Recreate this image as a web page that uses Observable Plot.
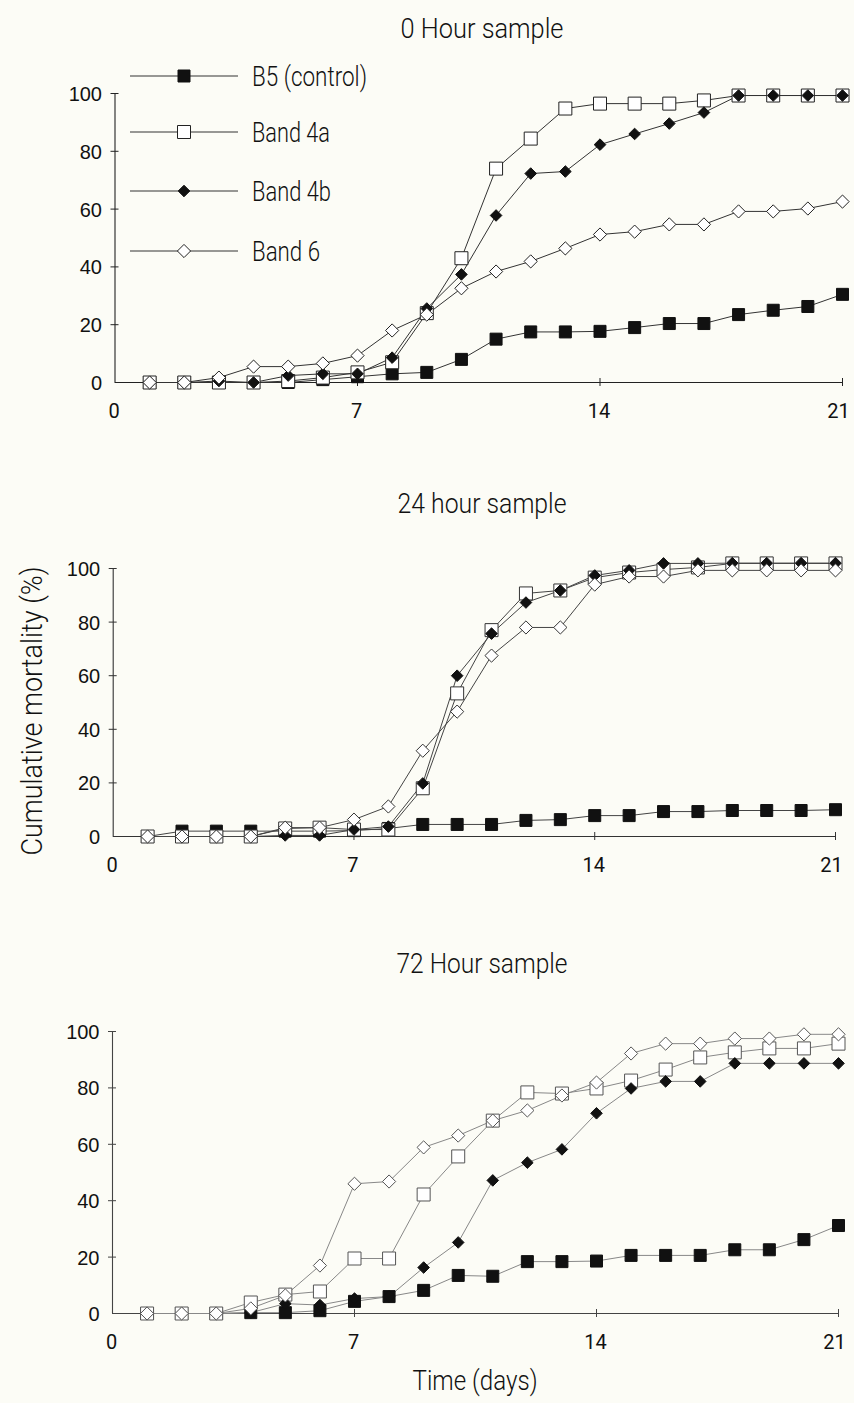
<!DOCTYPE html>
<html><head><meta charset="utf-8">
<script src="https://cdn.jsdelivr.net/npm/d3@7"></script>
<script src="https://cdn.jsdelivr.net/npm/@observablehq/plot@0.6"></script>
<style>
body{margin:0;background:#fcfcf6;}
#page{position:relative;width:854px;height:1403px;overflow:hidden;color:#111;}
.panel{position:absolute;left:0;}
.panel svg{overflow:visible;}
#overlay{position:absolute;left:0;top:0;}
</style></head>
<body><div id="page"></div>
<script>
// ---- data ----
const days = [1,2,3,4,5,6,7,8,9,10,11,12,13,14,15,16,17,18,19,20,21];
const seriesNames = ["B5 (control)","Band 4a","Band 4b","Band 6"];
const panelTitles = ["0 Hour sample","24 hour sample","72 Hour sample"];
const xTitle = "Time (days)";
const yTitle = "Cumulative mortality (%)";
const xTicks = [0,7,14,21];
const yTicks = [0,20,40,60,80,100];

const b5_0h   = [0,0,0,0,0,1,2,3,3.5,8,15,17.5,17.5,17.7,19,20.4,20.4,23.5,25,26.3,30.5];
const b4a_0h  = [0,0,0,0,0.5,1.7,3.5,7,24,43,74,84.4,94.8,96.5,96.5,96.5,97.6,99.3,99.3,99.3,99.3];
const b4b_0h  = [0,0,0.5,0,2.4,3,3,8.6,25.6,37.4,57.8,72.3,73,82.3,86,89.6,93.4,99.3,99.3,99.3,99.3];
const b6_0h   = [0,0,1.7,5.5,5.5,6.6,9.3,18,23.5,32.6,38.4,41.9,46.4,51.2,52.2,54.7,54.7,59.2,59.2,60.2,62.6];

const b5_24h  = [0,2,2,2,2,2,2.2,3,4.5,4.5,4.5,6,6.3,7.8,7.8,9.3,9.3,9.7,9.7,9.7,10];
const b4a_24h = [0,0,0,0,3,3.3,2.6,2.6,18,53.4,77,90.7,91.8,96.6,98.5,99.6,100.4,101.9,101.9,101.9,101.9];
const b4b_24h = [0,0,0,0,0.4,0.4,2.6,3.7,19.8,60,75.7,87.3,91.8,97.4,99.3,101.9,101.9,102,102,102,102];
const b6_24h  = [0,0,0,0,3.3,3.3,6.3,11.2,32,46.6,67.5,78,78,94,97,97,99.3,99.3,99.3,99.3,99.3];

const b5_72h  = [0,0,0,0.3,0.3,1,4.3,6,8.2,13.5,13.2,18.4,18.4,18.6,20.6,20.6,20.6,22.6,22.6,26.2,31.2];
const b4a_72h = [0,0,0,3.9,6.7,7.8,19.5,19.5,42.2,55.7,68.4,78.4,78,79.8,82.6,86.5,90.8,92.6,94,94,95.7];
const b4b_72h = [0,0,0,0.3,3.5,3,5.3,6,16.3,25.2,47.2,53.5,58.2,71,79.8,82.3,82.3,88.7,88.7,88.7,88.7];
const b6_72h  = [0,0,0,1.8,6.4,17,46,46.8,58.9,63.1,68.4,72,77.3,81.9,92.2,95.7,95.7,97.5,97.5,99,99];

// ---- symbols ----
const sq = {draw(ctx, size){const r=Math.sqrt(size/Math.PI);ctx.moveTo(-r,-r);ctx.lineTo(r,-r);ctx.lineTo(r,r);ctx.lineTo(-r,r);ctx.closePath();}};
const dm = {draw(ctx, size){const r=Math.sqrt(size/Math.PI);ctx.moveTo(0,-r);ctx.lineTo(r,0);ctx.lineTo(0,r);ctx.lineTo(-r,0);ctx.closePath();}};
const styles = [
  {symbol: sq, fill:"#111", r:6},
  {symbol: sq, fill:"#fff", r:6.5},
  {symbol: dm, fill:"#111", r:5.8},
  {symbol: dm, fill:"#fff", r:6.6}
];

const page = document.getElementById("page");

function panel(valueArrays, cfg){
  const rows = valueArrays.map((vals, si) => vals.map((v,i)=>({series: seriesNames[si], day: days[i], value: v})));
  const plotW = 854 - cfg.ml - cfg.mr;
  const plotH = cfg.height - cfg.mt - cfg.mb;
  const xText = {frameAnchor: "bottom", lineAnchor: "top", dy: cfg.xdy, fontSize: 20, fontFamily: "Roboto, sans-serif", fill: "#111"};
  const marks = [
    Plot.ruleX([0], {stroke: cfg.axis, strokeWidth: 1.1}),
    Plot.ruleY([0], {stroke: cfg.axis, strokeWidth: 1.1}),
    Plot.tickY(yTicks.filter(d=>d>0), {y: d=>d, stroke: cfg.axis, insetLeft: -4, insetRight: plotW-4}),
    Plot.tickX(xTicks.filter(d=>d>0), {x: d=>d, stroke: cfg.axis, insetTop: plotH-4, insetBottom: -4}),
    Plot.text(yTicks, {y: d=>d, text: d=>String(d), frameAnchor: "left", textAnchor: "end", dx: -13, dy: 1,
      fontSize: 20, fontFamily: "Liberation Sans, Arial, sans-serif", fill: "#111"}),
    Plot.text(xTicks.filter(d=>d<21), {x: d=>d, text: d=>String(d), dx: -1, ...xText}),
    Plot.text(xTicks.filter(d=>d===21), {x: d=>d, text: d=>String(d), dx: -4, ...xText})
  ];
  rows.forEach(r => marks.push(Plot.line(r, {x:"day", y:"value", stroke: cfg.line, strokeWidth: 1})));
  rows.forEach((r,si) => {
    const s = styles[si];
    const strokeCol = (s.fill === "#fff") ? cfg.open : "#111";
    marks.push(Plot.dot(r, {x:"day", y:"value", symbol: s.symbol, r: s.r, fill: s.fill, stroke: strokeCol, strokeWidth: 1}));
  });
  const svg = Plot.plot({
    width: 854, height: cfg.height,
    marginTop: cfg.mt, marginBottom: cfg.mb, marginLeft: cfg.ml, marginRight: cfg.mr,
    style: {background: "transparent", overflow: "visible"},
    x: {domain: [0,21], axis: null},
    y: {domain: [0,100], axis: null},
    marks
  });
  const div = document.createElement("div");
  div.className = "panel";
  div.style.top = cfg.top + "px";
  div.appendChild(svg);
  page.appendChild(div);
}

panel([b5_0h, b4a_0h, b4b_0h, b6_0h], {top: 50, height: 380, mt: 43, mb: 48, ml: 114.5, mr: 12, xdy: 21, axis:"#222", line:"#333", open:"#222"});
panel([b5_24h, b4a_24h, b4b_24h, b6_24h], {top: 525, height: 360, mt: 43, mb: 49, ml: 112.7, mr: 19, xdy: 21, axis:"#333", line:"#444", open:"#333"});
panel([b5_72h, b4a_72h, b4b_72h, b6_72h], {top: 990, height: 370, mt: 41, mb: 47, ml: 112, mr: 16, xdy: 21, axis:"#444", line:"#888", open:"#555"});

// ---- free text overlay (titles, axis titles, legend) ----
const ov = d3.select(page).append("svg").attr("id","overlay").attr("width",854).attr("height",1403);
const thin = "Roboto, 'Open Sans', sans-serif";
function label(txt, x, y, len, size, rot){
  const t = ov.append("text").attr("x",x).attr("y",y).attr("text-anchor","middle")
    .attr("font-family",thin).attr("font-weight",300).attr("font-size",size).attr("fill","#111")
    .attr("textLength",len).attr("lengthAdjust","spacingAndGlyphs").text(txt);
  if (rot) t.attr("transform",`rotate(-90 ${x} ${y})`);
  return t;
}
const titleY = [38, 513, 973];
const titleW = [163, 169, 171];
panelTitles.forEach((t,i)=> label(t, 482, titleY[i], titleW[i], 28));
label(xTitle, 475, 1390, 125, 28);
label(yTitle, 42, 711, 289, 29, true);

const legY = [76, 132, 191, 251];
const legW = [115, 78, 79, 68];
seriesNames.forEach((name, i) => {
  const g = ov.append("g").attr("transform", `translate(0,${legY[i]})`);
  g.append("line").attr("x1",130).attr("x2",238).attr("y1",0).attr("y2",0).attr("stroke","#333").attr("stroke-width",1);
  const s = styles[i];
  const path = d3.path();
  s.symbol.draw(path, s.r*s.r*Math.PI);
  g.append("path").attr("d", path.toString()).attr("transform","translate(184,0)")
    .attr("fill", s.fill).attr("stroke", s.fill === "#fff" ? "#222" : "#111").attr("stroke-width",1);
  g.append("text").attr("x",252).attr("y",10).attr("font-size",27).attr("font-weight",300)
    .attr("font-family",thin).attr("fill","#111")
    .attr("textLength",legW[i]).attr("lengthAdjust","spacingAndGlyphs").text(name);
});
</script>
</body></html>
